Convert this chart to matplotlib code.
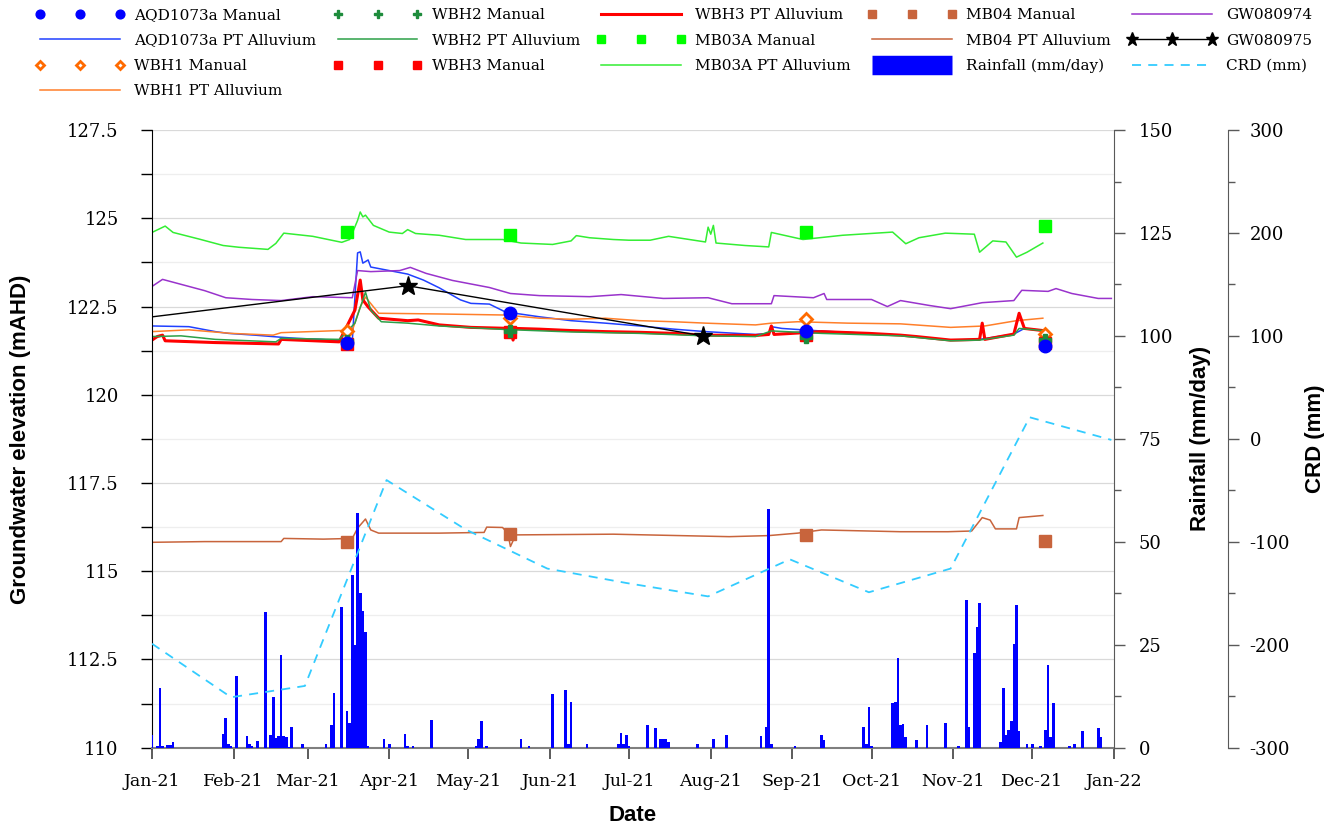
import numpy as np
import pandas as pd
import matplotlib
matplotlib.use("Agg")
import matplotlib.pyplot as plt
import matplotlib.dates as mdates
from matplotlib.ticker import MultipleLocator, FuncFormatter
from matplotlib.lines import Line2D

plt.rcParams['axes.unicode_minus'] = False
plt.rcParams['font.family'] = 'DejaVu Serif'

# ---- manual dips (mAHD) ----
manual_dates = ['2021-03-16', '2021-05-17', '2021-09-06', '2021-12-06']
aqd_manual = [121.48, 122.31, 121.82, 121.39]
wbh1_manual = [121.81, 122.17, 122.14, 121.72]
wbh2_manual = [121.53, 121.81, 121.65, 121.56]
wbh3_manual = [121.44, 121.79, 121.70, 121.46]
mb03a_manual = [124.61, 124.53, 124.60, 124.79]
mb04_manual = [115.83, 116.05, 116.03, 115.86]

# ---- logger records (mAHD) ----
aqd_pt_dates = ['2021-01-01', '2021-01-15', '2021-01-25', '2021-01-30', '2021-02-09', '2021-02-19',
                '2021-02-25', '2021-03-06', '2021-03-13', '2021-03-18', '2021-03-20', '2021-03-21',
                '2021-03-22', '2021-03-24', '2021-03-25', '2021-04-08', '2021-04-14', '2021-04-20',
                '2021-04-28', '2021-05-02', '2021-05-09', '2021-05-15', '2021-05-28', '2021-06-09',
                '2021-06-22', '2021-07-05', '2021-07-18', '2021-07-30', '2021-08-18', '2021-08-23',
                '2021-08-24', '2021-08-28', '2021-09-05', '2021-09-16', '2021-09-30', '2021-10-12',
                '2021-10-31', '2021-11-11', '2021-11-24', '2021-11-28', '2021-12-05']
aqd_pt = [121.95, 121.93, 121.79, 121.74, 121.69, 121.63,
          121.60, 121.57, 121.53, 121.53, 124.02, 124.05,
          123.73, 123.82, 123.62, 123.42, 123.25, 123.03,
          122.69, 122.59, 122.57, 122.35, 122.21, 122.10,
          122.03, 121.95, 121.86, 121.79, 121.71, 121.74,
          121.93, 121.88, 121.84, 121.79, 121.74, 121.69,
          121.55, 121.57, 121.72, 121.88, 121.82]

wbh1_pt_dates = ['2021-01-01', '2021-01-15', '2021-01-31', '2021-02-16', '2021-02-19', '2021-03-13',
                 '2021-03-18', '2021-03-21', '2021-03-23', '2021-03-28', '2021-04-20', '2021-05-15',
                 '2021-05-28', '2021-06-09', '2021-06-22', '2021-07-05', '2021-07-18', '2021-07-30',
                 '2021-08-18', '2021-08-24', '2021-09-03', '2021-09-22', '2021-10-12', '2021-10-31',
                 '2021-11-13', '2021-11-25', '2021-12-05']
wbh1_pt = [121.79, 121.84, 121.74, 121.69, 121.76, 121.82,
           121.82, 122.49, 122.77, 122.31, 122.29, 122.26,
           122.17, 122.14, 122.17, 122.10, 122.07, 122.03,
           121.98, 122.03, 122.07, 122.03, 122.01, 121.91,
           121.95, 122.10, 122.17]

wbh2_pt_dates = ['2021-01-01', '2021-01-12', '2021-01-25', '2021-02-17', '2021-02-19', '2021-03-13',
                 '2021-03-19', '2021-03-23', '2021-03-25', '2021-03-29', '2021-04-08', '2021-04-20',
                 '2021-05-15', '2021-06-09', '2021-07-05', '2021-07-30', '2021-08-18', '2021-08-24',
                 '2021-09-12', '2021-10-12', '2021-10-31', '2021-11-11', '2021-11-24', '2021-11-26',
                 '2021-12-05']
wbh2_pt = [121.65, 121.67, 121.57, 121.50, 121.60, 121.57,
           122.03, 122.91, 122.40, 122.07, 122.03, 121.95,
           121.85, 121.78, 121.74, 121.67, 121.65, 121.81,
           121.74, 121.67, 121.53, 121.55, 121.69, 121.88,
           121.82]

wbh3_pt_dates = ['2021-01-01', '2021-01-03', '2021-01-05', '2021-01-06', '2021-01-25', '2021-02-18',
                 '2021-02-19', '2021-03-13', '2021-03-19', '2021-03-21', '2021-03-22', '2021-03-24',
                 '2021-03-28', '2021-04-08', '2021-04-12', '2021-04-20', '2021-05-02', '2021-05-17',
                 '2021-05-18', '2021-05-19', '2021-05-28', '2021-06-09', '2021-06-22', '2021-07-05',
                 '2021-07-18', '2021-07-30', '2021-08-18', '2021-08-23', '2021-08-24', '2021-08-25',
                 '2021-09-12', '2021-09-30', '2021-10-12', '2021-10-18', '2021-10-31', '2021-11-11',
                 '2021-11-12', '2021-11-13', '2021-11-24', '2021-11-26', '2021-11-28', '2021-12-05']
wbh3_pt = [121.55, 121.65, 121.69, 121.53, 121.48, 121.44,
           121.57, 121.50, 122.40, 123.25, 122.69, 122.49,
           122.17, 122.10, 122.12, 121.98, 121.91, 121.88,
           121.55, 121.88, 121.86, 121.82, 121.79, 121.77,
           121.74, 121.69, 121.68, 121.71, 121.95, 121.71,
           121.79, 121.74, 121.69, 121.65, 121.55, 121.57,
           122.03, 121.57, 121.72, 122.31, 121.88, 121.82]

mb03a_pt_dates = ['2021-01-01', '2021-01-06', '2021-01-09', '2021-01-19', '2021-01-28', '2021-02-03',
                  '2021-02-14', '2021-02-17', '2021-02-20', '2021-03-03', '2021-03-14', '2021-03-17',
                  '2021-03-20', '2021-03-21', '2021-03-22', '2021-03-23', '2021-03-26', '2021-04-01',
                  '2021-04-06', '2021-04-08', '2021-04-11', '2021-04-20', '2021-04-30', '2021-05-14',
                  '2021-05-21', '2021-06-02', '2021-06-09', '2021-06-11', '2021-06-16', '2021-06-25',
                  '2021-07-01', '2021-07-09', '2021-07-16', '2021-07-30', '2021-07-31', '2021-08-01',
                  '2021-08-02', '2021-08-03', '2021-08-14', '2021-08-23', '2021-08-24', '2021-09-05',
                  '2021-09-20', '2021-10-09', '2021-10-14', '2021-10-19', '2021-10-29', '2021-11-09',
                  '2021-11-11', '2021-11-16', '2021-11-21', '2021-11-25', '2021-11-29', '2021-12-05']
mb03a_pt = [124.60, 124.78, 124.60, 124.41, 124.23, 124.18,
            124.12, 124.29, 124.58, 124.49, 124.32, 124.40,
            124.94, 125.18, 125.04, 125.09, 124.80, 124.61,
            124.57, 124.68, 124.57, 124.52, 124.40, 124.40,
            124.30, 124.26, 124.36, 124.51, 124.45, 124.40,
            124.38, 124.38, 124.49, 124.33, 124.75, 124.55,
            124.80, 124.30, 124.23, 124.19, 124.60, 124.40,
            124.52, 124.61, 124.28, 124.45, 124.58, 124.55,
            124.04, 124.36, 124.33, 123.90, 124.04, 124.30]

mb04_pt_dates = ['2021-01-01', '2021-01-21', '2021-02-19', '2021-02-20', '2021-03-07', '2021-03-18',
                 '2021-03-20', '2021-03-23', '2021-03-25', '2021-03-28', '2021-04-20', '2021-05-07',
                 '2021-05-08', '2021-05-14', '2021-05-16', '2021-05-17', '2021-05-19', '2021-06-25',
                 '2021-08-08', '2021-08-23', '2021-09-03', '2021-09-12', '2021-10-12', '2021-10-30',
                 '2021-11-08', '2021-11-12', '2021-11-15', '2021-11-17', '2021-11-25', '2021-11-26',
                 '2021-12-05']
mb04_pt = [115.82, 115.84, 115.84, 115.93, 115.91, 115.93,
           116.22, 116.48, 116.17, 116.08, 116.08, 116.10,
           116.25, 116.24, 116.08, 115.70, 116.03, 116.05,
           115.98, 116.01, 116.08, 116.17, 116.12, 116.12,
           116.14, 116.52, 116.45, 116.20, 116.20, 116.52,
           116.58]

gw974_dates = ['2021-01-01', '2021-01-05', '2021-01-11', '2021-01-21', '2021-01-29', '2021-02-08',
               '2021-02-19', '2021-03-03', '2021-03-18', '2021-03-20', '2021-03-25', '2021-04-05',
               '2021-04-09', '2021-04-15', '2021-04-25', '2021-05-09', '2021-05-17', '2021-05-28',
               '2021-06-16', '2021-06-28', '2021-07-14', '2021-07-31', '2021-08-09', '2021-08-24',
               '2021-08-25', '2021-09-09', '2021-09-13', '2021-09-14', '2021-10-01', '2021-10-07',
               '2021-10-12', '2021-10-23', '2021-10-31', '2021-11-12', '2021-11-24', '2021-11-27',
               '2021-12-07', '2021-12-10', '2021-12-16', '2021-12-26', '2021-12-31']
gw974 = [123.07, 123.27, 123.15, 122.95, 122.75, 122.70,
         122.67, 122.78, 122.75, 123.52, 123.49, 123.52,
         123.61, 123.44, 123.24, 123.04, 122.87, 122.81,
         122.78, 122.84, 122.73, 122.75, 122.58, 122.58,
         122.81, 122.75, 122.87, 122.70, 122.70, 122.50,
         122.67, 122.53, 122.44, 122.61, 122.67, 122.96,
         122.93, 123.01, 122.87, 122.73, 122.73]

gw975_dates = ['2020-10-14', '2021-04-08', '2021-07-29']
gw975 = [121.49, 123.09, 121.67]

# ---- climate ----
rain_dates = ['2021-01-01', '2021-01-03', '2021-01-04', '2021-01-05', '2021-01-07', '2021-01-08',
              '2021-01-09', '2021-01-28', '2021-01-29', '2021-01-30', '2021-01-31', '2021-02-02',
              '2021-02-06', '2021-02-07', '2021-02-08', '2021-02-10', '2021-02-13', '2021-02-15',
              '2021-02-16', '2021-02-17', '2021-02-18', '2021-02-19', '2021-02-20', '2021-02-21',
              '2021-02-22', '2021-02-23', '2021-02-27', '2021-03-08', '2021-03-10', '2021-03-11',
              '2021-03-14', '2021-03-16', '2021-03-17', '2021-03-18', '2021-03-19', '2021-03-20',
              '2021-03-21', '2021-03-22', '2021-03-23', '2021-03-24', '2021-03-30', '2021-04-01',
              '2021-04-07', '2021-04-08', '2021-04-10', '2021-04-17', '2021-05-04', '2021-05-05',
              '2021-05-06', '2021-05-08', '2021-05-21', '2021-05-24', '2021-06-02', '2021-06-07',
              '2021-06-08', '2021-06-09', '2021-06-15', '2021-06-27', '2021-06-28', '2021-06-29',
              '2021-06-30', '2021-07-01', '2021-07-08', '2021-07-11', '2021-07-13', '2021-07-14',
              '2021-07-15', '2021-07-16', '2021-07-27', '2021-08-02', '2021-08-07', '2021-08-20',
              '2021-08-22', '2021-08-23', '2021-08-24', '2021-09-02', '2021-09-12', '2021-09-13',
              '2021-09-28', '2021-09-29', '2021-09-30', '2021-10-01', '2021-10-09', '2021-10-10',
              '2021-10-11', '2021-10-12', '2021-10-13', '2021-10-14', '2021-10-18', '2021-10-22',
              '2021-10-29', '2021-11-03', '2021-11-06', '2021-11-07', '2021-11-09', '2021-11-10',
              '2021-11-11', '2021-11-19', '2021-11-20', '2021-11-21', '2021-11-22', '2021-11-23',
              '2021-11-24', '2021-11-25', '2021-11-26', '2021-11-29', '2021-12-01', '2021-12-04',
              '2021-12-06', '2021-12-07', '2021-12-08', '2021-12-09', '2021-12-15', '2021-12-17',
              '2021-12-20', '2021-12-26', '2021-12-27']
rain_mm = [3.2, 0.5, 14.4, 0.5, 0.6, 0.6,
           1.5, 3.3, 7.1, 0.8, 0.3, 17.4,
           2.9, 1.0, 0.5, 1.6, 33.0, 3.2,
           12.4, 2.4, 2.8, 22.4, 2.8, 2.7,
           0.2, 5.1, 1.0, 0.8, 5.6, 13.4,
           34.1, 9.0, 6.1, 42.0, 25.0, 57.0,
           37.6, 33.2, 28.2, 0.3, 2.0, 1.0,
           3.4, 0.5, 0.5, 6.8, 0.5, 2.0,
           6.6, 0.3, 2.0, 0.3, 13.0, 14.1,
           1.0, 11.2, 0.8, 1.0, 3.5, 1.0,
           3.0, 0.5, 5.4, 4.7, 2.0, 2.0,
           2.0, 1.5, 1.0, 2.0, 3.2, 2.9,
           5.1, 58.0, 0.8, 0.3, 3.0, 1.9,
           5.1, 0.8, 9.8, 0.5, 10.8, 11.2,
           21.7, 5.6, 5.8, 2.5, 1.9, 5.6,
           6.1, 0.5, 35.9, 5.1, 22.9, 29.2,
           35.1, 1.5, 14.6, 3.0, 4.4, 6.6,
           25.1, 34.6, 4.1, 1.0, 1.0, 0.3,
           4.4, 20.0, 2.5, 10.8, 0.3, 1.0,
           4.1, 4.9, 2.5]

crd_dates = ['2021-01-01', '2021-01-31', '2021-02-28', '2021-03-31', '2021-04-30', '2021-05-31',
             '2021-06-30', '2021-07-31', '2021-08-31', '2021-09-30', '2021-10-31', '2021-11-30',
             '2021-12-31']
crd_mm = [-199, -251, -240, -40, -88, -126, -140, -153, -117, -149, -126, 21, -1]

dt = pd.to_datetime

fig = plt.figure(figsize=(13.24, 8.27), dpi=100)
ax = fig.add_axes([152 / 1324, 1 - 747.7 / 827, 962 / 1324, 617.6 / 827])
ax_rain = ax.twinx()
ax_crd = ax.twinx()

# groundwater lines
l_aqd, = ax.plot(dt(aqd_pt_dates), aqd_pt, color='#2040FF', lw=1.1)
l_wbh1, = ax.plot(dt(wbh1_pt_dates), wbh1_pt, color='#FF7F2A', lw=1.1)
l_wbh3, = ax.plot(dt(wbh3_pt_dates), wbh3_pt, color='#FF0000', lw=2.2)
l_wbh2, = ax.plot(dt(wbh2_pt_dates), wbh2_pt, color='#2CA048', lw=1.1)
l_mb03, = ax.plot(dt(mb03a_pt_dates), mb03a_pt, color='#33EE33', lw=1.1)
l_mb04, = ax.plot(dt(mb04_pt_dates), mb04_pt, color='#C8643C', lw=1.1)
l_974, = ax.plot(dt(gw974_dates), gw974, color='#9933CC', lw=1.1)
l_975, = ax.plot(dt(gw975_dates), gw975, color='black', lw=1.0, marker='*', ms=14)

m_mb04, = ax.plot(dt(manual_dates), mb04_manual, ls='none', marker='s', ms=8.5, color='#C8643C')
m_mb03, = ax.plot(dt(manual_dates), mb03a_manual, ls='none', marker='s', ms=8.5, color='#00FF00')
m_wbh1, = ax.plot(dt(manual_dates), wbh1_manual, ls='none', marker='D', ms=6, mfc='white',
                  mec='#FF6A00', mew=2)
m_wbh3, = ax.plot(dt(manual_dates), wbh3_manual, ls='none', marker='s', ms=8.5, color='#FF0000')
m_wbh2, = ax.plot(dt(manual_dates), wbh2_manual, ls='none', marker='P', ms=9, color='#1E8C3C')
m_aqd, = ax.plot(dt(manual_dates), aqd_manual, ls='none', marker='o', ms=9, color='#0000FF')

# rainfall and CRD
ax_rain.bar(dt(rain_dates), rain_mm, width=1.0, color='#0000FF', linewidth=0)
l_crd, = ax_crd.plot(dt(crd_dates), crd_mm, color='#33CCFF', lw=1.3, dashes=(5, 4))

ax.set_xlim(dt('2021-01-01'), dt('2022-01-01'))
ax.set_ylim(110, 127.5)
ax_rain.set_ylim(0, 150)
ax_crd.set_ylim(-300, 300)

ax.xaxis.set_major_locator(mdates.MonthLocator())
ax.xaxis.set_major_formatter(mdates.DateFormatter('%b-%y'))
ax.yaxis.set_major_locator(MultipleLocator(2.5))
ax.yaxis.set_minor_locator(MultipleLocator(1.25))
ax.yaxis.set_major_formatter(FuncFormatter(lambda v, _: f'{v:g}'))
ax_rain.yaxis.set_major_locator(MultipleLocator(25))
ax_rain.yaxis.set_minor_locator(MultipleLocator(12.5))
ax_crd.yaxis.set_major_locator(MultipleLocator(100))
ax_crd.yaxis.set_minor_locator(MultipleLocator(50))

ax.grid(True, which='major', axis='y', color='#D9D9D9', lw=0.9)
ax.grid(True, which='minor', axis='y', color='#EEEEEE', lw=0.9)
ax.set_axisbelow(True)

ax.tick_params(axis='y', which='both', direction='out', length=8, width=1, pad=16, labelsize=13)
ax.tick_params(axis='x', which='both', direction='out', length=8, width=1.2, pad=10, labelsize=12.5,
               color='#404040')
ax_rain.tick_params(axis='y', which='major', direction='out', length=8, width=1, pad=10,
                    labelsize=13, color='#595959')
ax_rain.tick_params(axis='y', which='minor', direction='out', length=5, width=1, color='#595959')
ax_crd.tick_params(axis='y', which='major', direction='out', length=8, width=1, pad=8,
                   labelsize=13, color='#595959')
ax_crd.tick_params(axis='y', which='minor', direction='out', length=5, width=1, color='#595959')

for a in (ax, ax_rain, ax_crd):
    a.spines['top'].set_visible(False)
ax.spines['right'].set_visible(False)
ax.spines['left'].set_color('black')
ax.spines['bottom'].set_color('#7F7F7F')
ax.spines['bottom'].set_linewidth(1.5)
for a in (ax_rain, ax_crd):
    a.spines['left'].set_visible(False)
    a.spines['bottom'].set_visible(False)
    a.spines['right'].set_color('#595959')
ax_crd.spines['right'].set_position(('axes', 1.118))

lab_font = dict(family='Liberation Sans', fontweight='bold', fontsize=16)
ax.set_ylabel('Groundwater elevation (mAHD)', **lab_font)
ax.yaxis.set_label_coords(-0.126, 0.5)
ax.set_xlabel('Date', **lab_font)
ax.xaxis.set_label_coords(0.5, -0.092)
ax_rain.set_ylabel('Rainfall (mm/day)', **lab_font)
ax_rain.yaxis.set_label_coords(1.0785, 0.5)
ax_crd.set_ylabel('CRD (mm)', **lab_font)
ax_crd.yaxis.set_label_coords(1.1985, 0.5)

rain_handle = Line2D([], [], color='#0000FF', lw=14, solid_capstyle='butt')
handles = [m_aqd, l_aqd, m_wbh1, l_wbh1, m_wbh2, l_wbh2, m_wbh3, l_wbh3,
           m_mb03, l_mb03, m_mb04, l_mb04, rain_handle, l_974, l_975, l_crd]
labels = ['AQD1073a Manual', 'AQD1073a PT Alluvium', 'WBH1 Manual', 'WBH1 PT Alluvium',
          'WBH2 Manual', 'WBH2 PT Alluvium', 'WBH3 Manual', 'WBH3 PT Alluvium',
          'MB03A Manual', 'MB03A PT Alluvium', 'MB04 Manual', 'MB04 PT Alluvium',
          'Rainfall (mm/day)', 'GW080974', 'GW080975', 'CRD (mm)']
fig.legend(handles, labels, ncol=5, loc='upper left', bbox_to_anchor=(0.027, 0.990),
           frameon=False, fontsize=11, numpoints=3, markerscale=0.7, handlelength=5.8,
           handletextpad=0.65, columnspacing=1.1, labelspacing=0.74, borderpad=0, borderaxespad=0)

fig.savefig('out.png', dpi=100)
